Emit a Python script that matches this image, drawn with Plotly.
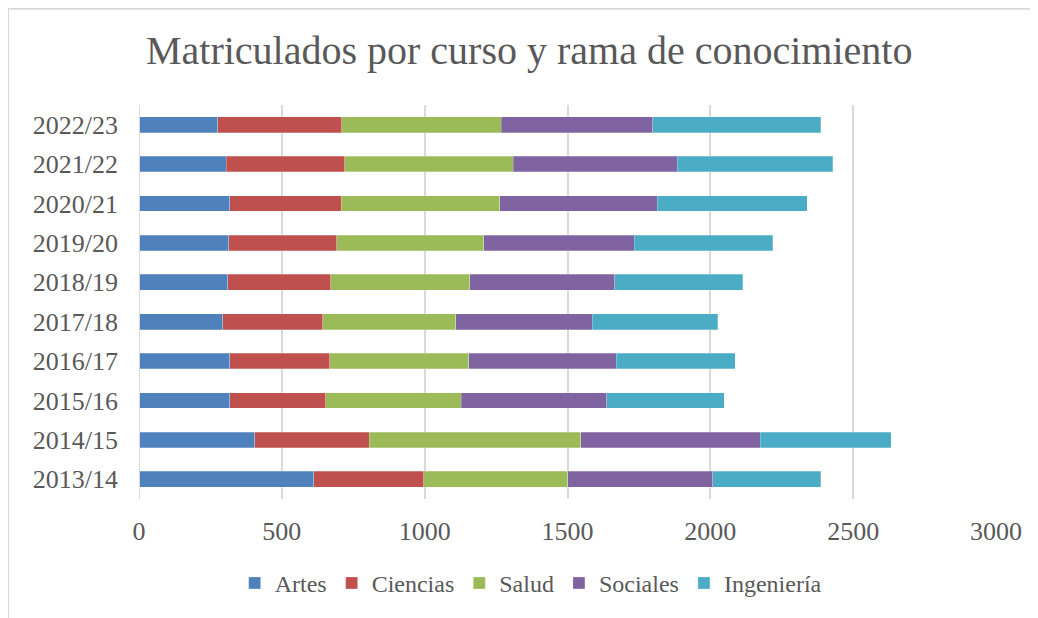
import plotly.graph_objects as go

# Data
cursos = ["2013/14", "2014/15", "2015/16", "2016/17", "2017/18",
          "2018/19", "2019/20", "2020/21", "2021/22", "2022/23"]
artes = [612, 406, 318, 318, 294, 311, 315, 318, 306, 276]
ciencias = [384, 400, 335, 350, 349, 360, 377, 390, 415, 433]
salud = [505, 741, 475, 487, 465, 486, 514, 554, 589, 559]
sociales = [508, 628, 510, 515, 479, 508, 527, 553, 575, 531]
ingenieria = [378, 459, 411, 418, 439, 449, 486, 525, 544, 587]

ramas = ["Artes", "Ciencias", "Salud", "Sociales", "Ingeniería"]
valores = [artes, ciencias, salud, sociales, ingenieria]
colores = ["#4F81BD", "#C0504D", "#9BBB59", "#8064A2", "#4BACC6"]

FONT = "Liberation Serif"
GRIS = "#595959"

fig = go.Figure()
for nombre, vals, col in zip(ramas, valores, colores):
    fig.add_trace(go.Bar(
        y=cursos, x=vals, name=nombre, orientation="h",
        marker=dict(color=col, line=dict(color="rgba(255,255,255,0.5)", width=0.5)),
    ))

# the page body has an 8px margin, so the figure sits at (8, 8)
fig.update_layout(
    barmode="stack",
    bargap=0.6,
    width=1030, height=610,
    margin=dict(l=131, r=42, t=97, b=116),
    paper_bgcolor="white", plot_bgcolor="white",
    font=dict(family=FONT, color=GRIS, size=24),
    title=dict(text="Matriculados por curso y rama de conocimiento",
               x=0.506, xanchor="center", y=0.931, yanchor="middle",
               font=dict(family=FONT, size=40, color=GRIS)),
    xaxis=dict(range=[0, 3000], dtick=500, showgrid=True, automargin=False,
               gridcolor="#D9D9D9", gridwidth=2, zeroline=False,
               tickfont=dict(size=26, color=GRIS), ticks="", showline=False,
               ticklabelstandoff=14),
    yaxis=dict(showgrid=False, ticks="", showline=False, automargin=False,
               tickfont=dict(size=26, color=GRIS), ticklabelstandoff=20),
    legend=dict(orientation="h", x=0.457, xanchor="center", y=-0.214,
                yanchor="middle", font=dict(size=24, color=GRIS),
                traceorder="normal", itemwidth=30),
    showlegend=True,
    shapes=[
        # y axis line at zero
        dict(type="line", xref="x", yref="paper", x0=0, x1=0, y0=0, y1=1,
             line=dict(color="#D9D9D9", width=2)),
        # outer chart border (left and top visible)
        dict(type="rect", xref="paper", yref="paper",
             x0=-131 / 857, x1=1.2, y0=-0.4, y1=1 + 97 / 397,
             line=dict(color="#D9D9D9", width=2), layer="below"),
    ],
)

fig.write_html("out.html")
